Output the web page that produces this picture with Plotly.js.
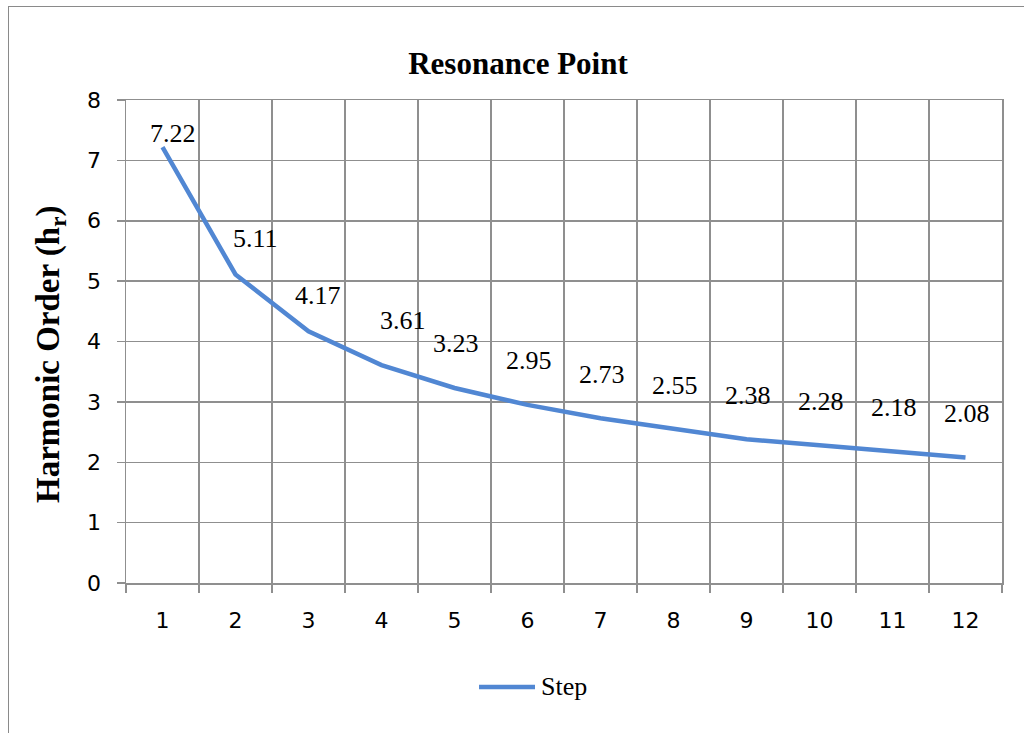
<!DOCTYPE html>
<html><head><meta charset="utf-8">
<script src="https://cdn.plot.ly/plotly-3.0.1.min.js"></script>
<style>
body{margin:0;padding:0;background:#fff;}
#frame{position:absolute;left:8px;top:6px;width:1100px;height:800px;border:1.5px solid #8a8a8a;pointer-events:none;z-index:5;}
#chart{position:absolute;left:0;top:0;width:1024px;height:733px;}
</style></head>
<body>
<div id="chart"></div>
<div id="frame"></div>
<script>
const categories = [1,2,3,4,5,6,7,8,9,10,11,12];
const stepValues = [7.22,5.11,4.17,3.61,3.23,2.95,2.73,2.55,2.38,2.28,2.18,2.08];
const yTicks = [0,1,2,3,4,5,6,7,8];
const seriesName = 'Step';
const chartTitle = 'Resonance Point';
const yTitle = 'Harmonic Order (h<sub>r</sub>)';

const lineColor = '#5187d3';
const gridColor = '#8f8f8f';
const serif = 'Liberation Serif, Times New Roman, serif';
const sans = 'DejaVu Sans, Verdana, sans-serif';

const trace = {
  x: categories, y: stepValues, type: 'scatter', mode: 'lines', name: seriesName,
  line: {color: lineColor, width: 4.5, shape: 'linear'},
  hoverinfo: 'x+y', showlegend: false
};

function labelShift(i){
  if(i===0) return {x:10,y:14};
  if(i===1) return {x:20,y:36};
  if(i===2) return {x:9,y:36};
  if(i===3) return {x:21,y:45};
  return {x:1,y:44};
}
const annotations = stepValues.map((v,i)=>{
  const s = labelShift(i);
  return {x: categories[i], y: v, xref:'x', yref:'y', text: v.toFixed(2), showarrow:false,
    xshift: s.x, yshift: s.y, font:{family:serif, size:26, color:'#000'}};
});
// custom legend text
annotations.push({x:0.4715, y:-0.2153, xref:'paper', yref:'paper', xanchor:'left', yanchor:'middle',
  text: seriesName, showarrow:false, font:{family:serif, size:26, color:'#000'}});
// y-axis title
annotations.push({x:-0.0868, y:0.474, xref:'paper', yref:'paper', xanchor:'center', yanchor:'middle',
  textangle:-90, text:'<b>'+yTitle+'</b>', showarrow:false, font:{family:serif, size:33, color:'#000'}});

const layout = {
  width: 1024, height: 733,
  margin: {l:126, r:22, t:100, b:150},
  paper_bgcolor: 'rgba(0,0,0,0)', plot_bgcolor: '#fff',
  title: {text: '<b>'+chartTitle+'</b>', x: 0.4475, xref:'paper', xanchor:'center', y: 0.914, yanchor:'middle',
    font:{family:serif, size:31, color:'#000'}},
  xaxis: {
    type:'linear', range:[0.5,12.5], tickvals: categories, ticktext: categories.map(String),
    showgrid:false, zeroline:false, ticks:'', ticklabelstandoff: 17,
    showline:true, linecolor: gridColor, linewidth:1.5, mirror:true,
    tickfont:{family:sans, size:22, color:'#000'},
    minor:{tick0:0.5, dtick:1, showgrid:true, gridcolor:gridColor, gridwidth:1.5, ticks:'outside', ticklen:8, tickcolor:gridColor, tickwidth:1.5},
    fixedrange:true
  },
  yaxis: {
    range:[0,8], tickvals: yTicks, showgrid:true, gridcolor:gridColor, gridwidth:1.5, zeroline:false,
    ticks:'outside', ticklen:8, tickcolor:gridColor, tickwidth:1.5, ticklabelstandoff: 11,
    showline:true, linecolor:gridColor, linewidth:1.5, mirror:true,
    tickfont:{family:sans, size:22, color:'#000'},
    fixedrange:true
  },
  showlegend:false,
  shapes:[{type:'line', xref:'paper', yref:'paper', x0:0.403, x1:0.4669, y0:-0.2153, y1:-0.2153,
    line:{color:lineColor, width:4.5}}],
  annotations: annotations
};

Plotly.newPlot('chart', [trace], layout, {displayModeBar:false, staticPlot:true});
</script>
</body></html>
